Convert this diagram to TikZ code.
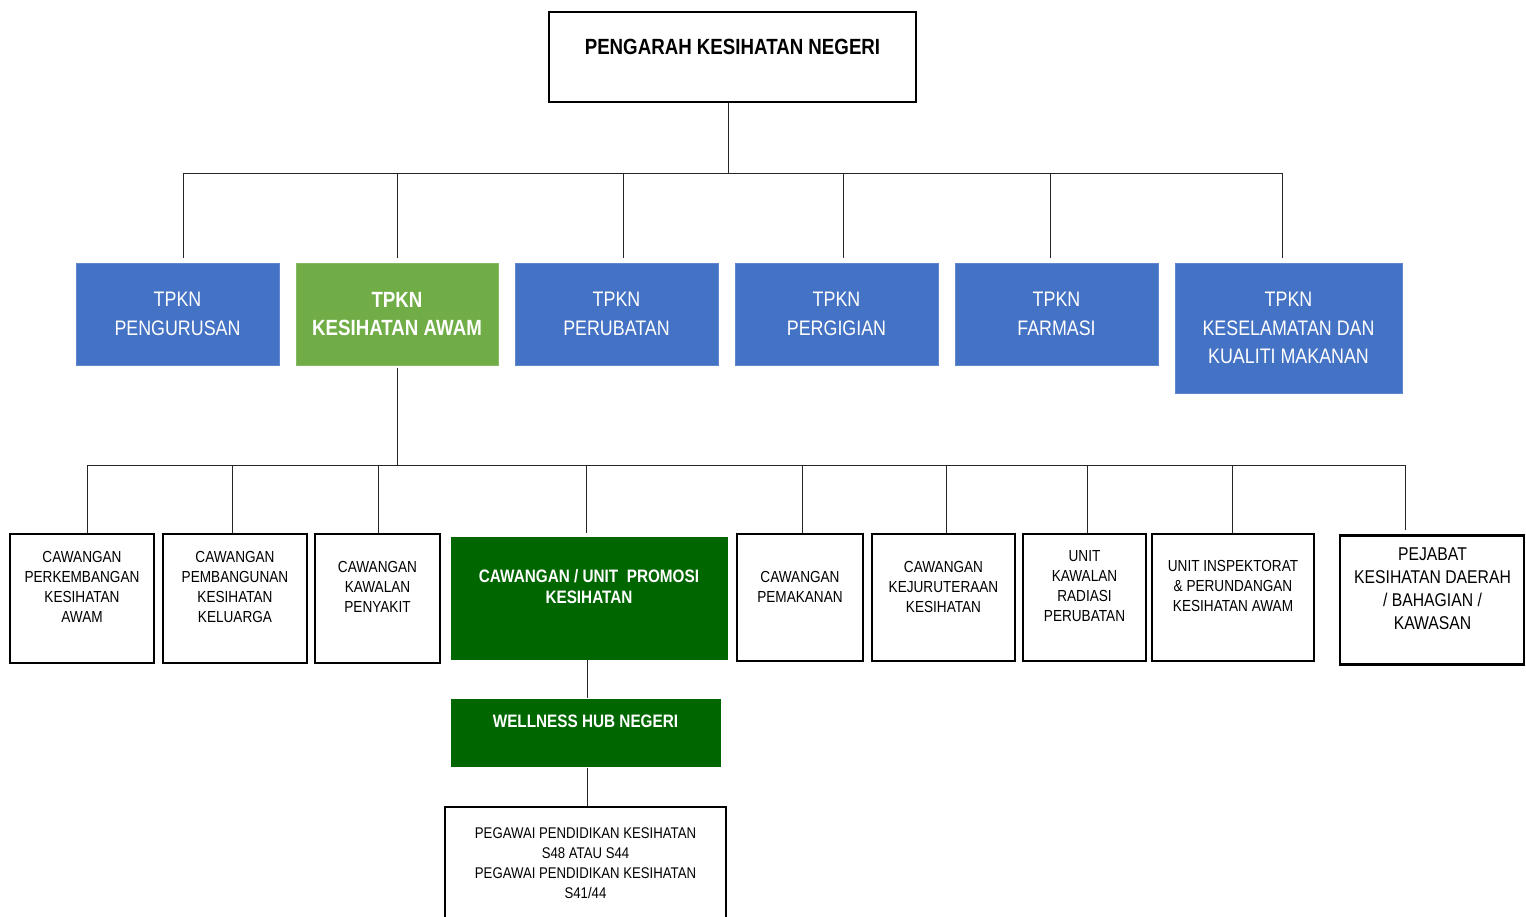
\documentclass[tikz,border=0pt]{standalone}
\usepackage{fontspec}
\setmainfont{Liberation Sans}
\newfontfamily\nar[FakeStretch=0.85]{Liberation Sans}
\definecolor{tblue}{HTML}{4472C4}
\definecolor{tgreen}{HTML}{70AD47}
\definecolor{dgreen}{HTML}{006600}
\begin{document}
\begin{tikzpicture}[x=1pt,y=-1pt,
  conn/.style={draw=black!85, line width=1pt},
  tierbox/.style={rectangle, draw=#1!85!white, fill=#1, line width=0.6pt, inner sep=0pt, text=white, align=center},
  bluebox/.style={tierbox=tblue, font=\nar\fontsize{21}{28.5}\selectfont},
  lgreenbox/.style={tierbox=tgreen, font=\nar\bfseries\fontsize{22}{28.5}\selectfont},
  dgreenbox/.style={rectangle, fill=dgreen, draw=dgreen, line width=0.6pt, inner sep=0pt},
  unitbox/.style={rectangle, draw=black, fill=white, line width=1.6pt, inner sep=0pt},
  unittxt/.style={align=center, inner sep=0pt, font=\nar\fontsize{16}{20}\selectfont},
  greentxt/.style={align=center, inner sep=0pt, text=white, font=\nar\bfseries\fontsize{18}{21.5}\selectfont},
]
\useasboundingbox (0,0) rectangle (1526,916);

% top
\node[unitbox, line width=1.8pt, minimum width=367pt, minimum height=90pt] (top) at (732.5,57) {};
\node[inner sep=0pt, font=\nar\bfseries\fontsize{22}{25}\selectfont] (toptxt) at (732.5,47) {PENGARAH KESIHATAN NEGERI};

% tier 2
\node[bluebox, minimum width=203pt, minimum height=102pt] (p1) at (177.5,314) {TPKN\\PENGURUSAN};
\node[lgreenbox, minimum width=202pt, minimum height=102pt] (p2) at (397,314) {TPKN\\KESIHATAN AWAM};
\node[bluebox, minimum width=203pt, minimum height=102pt] (p3) at (616.5,314) {TPKN\\PERUBATAN};
\node[bluebox, minimum width=203pt, minimum height=102pt] (p4) at (836.5,314) {TPKN\\PERGIGIAN};
\node[bluebox, minimum width=203pt, minimum height=102pt] (p5) at (1056.5,314) {TPKN\\FARMASI};
\node[bluebox, minimum width=227pt, minimum height=130pt] (p6) at (1288.5,328) {TPKN\\KESELAMATAN DAN\\KUALITI MAKANAN};

% connectors tier 1-2
\coordinate (j0) at (728,173);
\coordinate (busL) at (183,173);
\coordinate (busR) at (1282,173);
\draw[conn] (j0 |- top.south) -- (j0);
\draw[conn] (busL) -- (busR);
\foreach \x/\n in {183/p1,397/p2,623/p3,843/p4,1050/p5,1282/p6}{
  \coordinate (d\n) at (\x,173);
  \coordinate (e\n) at (\x,258);
  \draw[conn] (d\n) -- (e\n);
}

% tier 3
\node[unitbox, minimum width=144pt, minimum height=129pt] (b1) at (82,598.5) {};
\node[unitbox, minimum width=144pt, minimum height=129pt] (b2) at (235,598.5) {};
\node[unitbox, minimum width=125pt, minimum height=129pt] (b3) at (377.5,598.5) {};
\node[dgreenbox, minimum width=276pt, minimum height=122pt] (b4) at (589,598) {};
\node[unitbox, minimum width=126pt, minimum height=127pt] (b5) at (800,597.5) {};
\node[unitbox, minimum width=143pt, minimum height=127pt] (b6) at (943.5,597.5) {};
\node[unitbox, minimum width=123pt, minimum height=127pt] (b7) at (1084.5,597.5) {};
\node[unitbox, minimum width=162pt, minimum height=127pt] (b8) at (1233,597.5) {};
\node[unitbox, line width=2.6pt, minimum width=184pt, minimum height=129pt] (b9) at (1432,600) {};

\node[unittxt] (t1) at (82,587) {CAWANGAN\\PERKEMBANGAN\\KESIHATAN\\AWAM};
\node[unittxt] (t2) at (235,587) {CAWANGAN\\PEMBANGUNAN\\KESIHATAN\\KELUARGA};
\node[unittxt] (t3) at (377.5,587) {CAWANGAN\\KAWALAN\\PENYAKIT};
\node[greentxt] (t4) at (589,586.5) {CAWANGAN / UNIT\ \ PROMOSI\\KESIHATAN};
\node[unittxt] (t5) at (800,587) {CAWANGAN\\PEMAKANAN};
\node[unittxt] (t6) at (943.5,586.5) {CAWANGAN\\KEJURUTERAAN\\KESIHATAN};
\node[unittxt] (t7) at (1084.5,586) {UNIT\\KAWALAN\\RADIASI\\PERUBATAN};
\node[unittxt] (t8) at (1233,586) {UNIT INSPEKTORAT\\\& PERUNDANGAN\\KESIHATAN AWAM};
\node[unittxt, font=\nar\fontsize{18.5}{23}\selectfont] (t9) at (1432.5,588.5) {PEJABAT\\KESIHATAN DAERAH\\/ BAHAGIAN /\\KAWASAN};

% connectors tier 2-3
\coordinate (k0) at (397,465);
\coordinate (bus2L) at (87,465);
\coordinate (bus2R) at (1405,465);
\draw[conn] ([yshift=-3pt]p2.south) -- (k0);
\draw[conn] (bus2L) -- (bus2R);
\foreach \x/\n/\e in {87/b1/533,232/b2/533,378/b3/533,586/b4/533,802/b5/533,946/b6/533,1087/b7/533,1232/b8/533,1405/b9/530}{
  \coordinate (u\n) at (\x,465);
  \coordinate (v\n) at (\x,\e);
  \draw[conn] (u\n) -- (v\n);
}

% wellness and bottom
\node[dgreenbox, minimum width=269pt, minimum height=67pt] (w) at (585.5,732.5) {};
\node[greentxt, font=\nar\bfseries\fontsize{18}{21}\selectfont] (wt) at (585.5,721) {WELLNESS HUB NEGERI};
\node[unitbox, line width=1.8pt, minimum width=281pt, minimum height=124pt] (pg) at (585.5,869) {};
\node[unittxt, font=\nar\fontsize{15.5}{20}\selectfont] (pgt) at (585.5,863) {PEGAWAI PENDIDIKAN KESIHATAN\\S48 ATAU S44\\PEGAWAI PENDIDIKAN KESIHATAN\\S41/44};

\coordinate (m1) at (587,660);
\coordinate (m2) at (587,698);
\coordinate (m3) at (587,768);
\coordinate (m4) at (587,806);
\draw[conn] (m1) -- (m2);
\draw[conn] (m3) -- (m4);
\end{tikzpicture}
\end{document}
